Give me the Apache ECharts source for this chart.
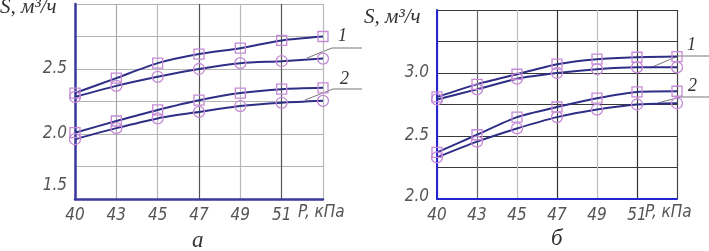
<!DOCTYPE html>
<html><head><meta charset="utf-8">
<script src="https://cdn.jsdelivr.net/npm/echarts@6/dist/echarts.min.js"></script>
<style>html,body{margin:0;padding:0;background:#fff}#c{width:709px;height:251px}</style>
</head><body><div id="c"></div>
<script>
var categories = ['40','43','45','47','49','51',''];
var yLabelsA = ['1.5','2.0','2.5'];
var yLabelsB = ['2.0','2.5','3.0'];
// Chart а
var a1up = [2.315, 2.43, 2.545, 2.615, 2.66, 2.72, 2.75];
var a1lo = [2.285, 2.37, 2.44, 2.50, 2.545, 2.56, 2.58];
var a2up = [2.01, 2.10, 2.185, 2.26, 2.315, 2.345, 2.355];
var a2lo = [1.96, 2.045, 2.12, 2.17, 2.215, 2.24, 2.255];
// Chart б
var b1up = [2.81, 2.91, 2.99, 3.07, 3.11, 3.125, 3.13];
var b1lo = [2.79, 2.87, 2.955, 3.0, 3.03, 3.045, 3.045];
var b2up = [2.37, 2.51, 2.65, 2.73, 2.80, 2.85, 2.855];
var b2lo = [2.33, 2.455, 2.56, 2.65, 2.71, 2.75, 2.76];

var labFont = "'Liberation Sans Narrow','DejaVu Sans Condensed',sans-serif";
var lineColor = '#2e2e86';
var markColor = '#c58ad6';

function fmtY(list){
  return function(v){
    var s = v.toFixed(1);
    if (Math.abs(v*2 - Math.round(v*2)) > 1e-6) return '';
    if (list.indexOf(s) < 0) return '';
    if (s === list[0]) return '{low|' + s + '}';
    return s;
  };
}
function ser(data, sym, idx){
  return {
    type:'line', data:data, xAxisIndex:idx, yAxisIndex:idx,
    smooth:0.25, symbol:sym, symbolSize: sym==='rect'?10:11,
    showSymbol:true,
    lineStyle:{color:lineColor, width:2},
    itemStyle:{color:'rgba(255,255,255,0)', borderColor:markColor, borderWidth:1.3},
    z: 3
  };
}
var axLabel = {color:'#555', fontSize:17, fontStyle:'italic', fontFamily:labFont, margin:8};
function txt(x, y, s, size, fam, col){
  return {type:'text', left:x, top:y, z:10,
    style:{text:s, fontSize:size, fontStyle:'italic', fontFamily:fam, fill:col}};
}
var serif = "'Liberation Serif','DejaVu Serif',serif";

var chart = echarts.init(document.getElementById('c'), null, {renderer:'canvas'});
chart.setOption({
  animation:false,
  backgroundColor:'#fff',
  grid:[
    {left:75, right:386, top:4, bottom:52},
    {left:437, right:32, top:10, bottom:52}
  ],
  xAxis:[
    {type:'category', gridIndex:0, data:categories, boundaryGap:false,
     axisLine:{lineStyle:{color:'#3a3a9c', width:2.5}}, axisTick:{show:false},
     axisLabel:axLabel,
     splitLine:{show:true, lineStyle:{width:1.2, color:['#3a3a9c','#a8a8a8','#b8b8b8','#555','#b8b8b8','#555','#b8b8b8']}}},
    {type:'category', gridIndex:1, data:categories, boundaryGap:false,
     axisLine:{lineStyle:{color:'#2424d0', width:2}}, axisTick:{show:false},
     axisLabel:axLabel,
     splitLine:{show:true, lineStyle:{width:1.2, color:['#2424d0','#666','#bbb','#333','#bbb','#333','#444']}}}
  ],
  yAxis:[
    {type:'value', gridIndex:0, min:1.5, max:3.0, interval:0.25,
     axisLine:{show:true, lineStyle:{color:'#3a3a9c', width:2.5}}, axisTick:{show:false},
     axisLabel:Object.assign({}, axLabel, {formatter:fmtY(yLabelsA), rich:{low:{color:'#555', fontSize:17, fontStyle:'italic', fontFamily:labFont, padding:[0,0,26,0]}}}),
     splitLine:{show:true, lineStyle:{color:'#b4b4b4', width:1.2}}},
    {type:'value', gridIndex:1, min:2.0, max:3.5, interval:0.25,
     axisLine:{show:true, lineStyle:{color:'#2424d0', width:2}}, axisTick:{show:false},
     axisLabel:Object.assign({}, axLabel, {formatter:fmtY(yLabelsB), rich:{low:{color:'#555', fontSize:17, fontStyle:'italic', fontFamily:labFont, padding:[0,0,4,0]}}}),
     splitLine:{show:true, lineStyle:{color:'#3a3a3a', width:1.2}}}
  ],
  series:[
    ser(a1up,'rect',0), ser(a1lo,'circle',0), ser(a2up,'rect',0), ser(a2lo,'circle',0),
    ser(b1up,'rect',1), ser(b1lo,'circle',1), ser(b2up,'rect',1), ser(b2lo,'circle',1)
  ],
  graphic:[
    txt(0, -3, 'S, м³/ч', 21, serif, '#333'),
    txt(364, 7, 'S, м³/ч', 21, serif, '#333'),
    txt(298, 204, 'P, кПа', 17, labFont, '#555'),
    txt(645, 204, 'P, кПа', 17, labFont, '#555'),
    txt(192, 229, 'а', 23, serif, '#333'),
    txt(551, 227, 'б', 23, serif, '#333'),
    txt(338, 27, '1', 18, serif, '#333'),
    txt(340, 70, '2', 18, serif, '#333'),
    txt(687, 36, '1', 18, serif, '#333'),
    txt(688, 77, '2', 18, serif, '#333'),
    {type:'polyline', shape:{points:[[307,58],[332,48],[362,48]]}, style:{stroke:'#777', lineWidth:1, fill:null}},
    {type:'polyline', shape:{points:[[305,100],[333,89],[362,89]]}, style:{stroke:'#777', lineWidth:1, fill:null}},
    {type:'polyline', shape:{points:[[650,68],[678,56],[709,56]]}, style:{stroke:'#777', lineWidth:1, fill:null}},
    {type:'polyline', shape:{points:[[658,103],[680,97],[709,97]]}, style:{stroke:'#777', lineWidth:1, fill:null}}
  ]
});
</script></body></html>
